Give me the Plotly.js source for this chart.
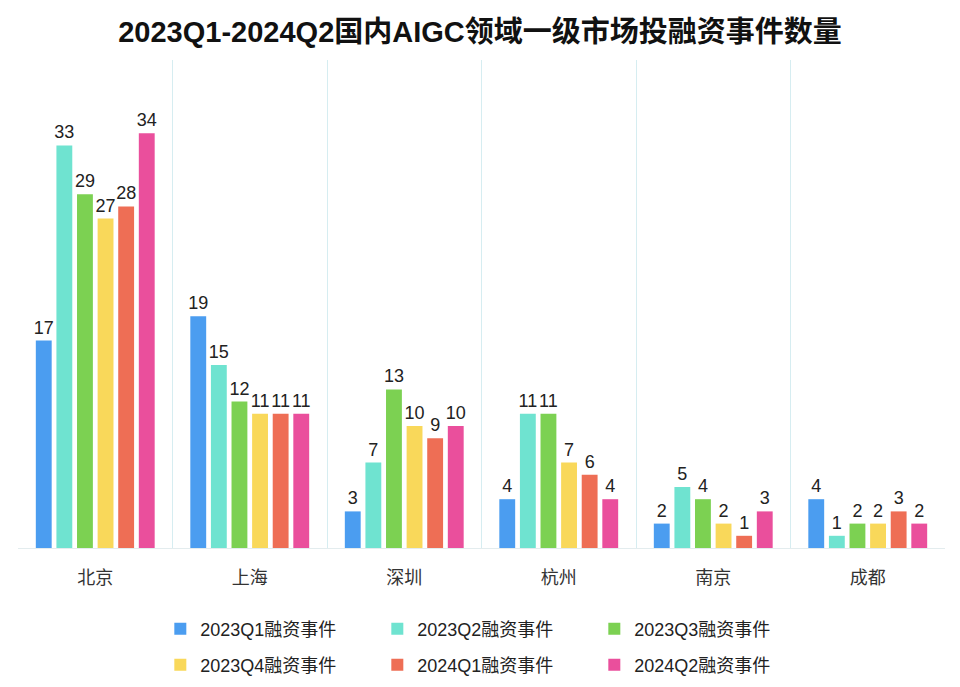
<!DOCTYPE html>
<html><head><meta charset="utf-8">
<script src="https://cdn.plot.ly/plotly-3.0.1.min.js"></script>
<style>html,body{margin:0;padding:0;background:#fff}#chart{width:960px;height:687px}</style>
</head><body><div id="chart"></div>
<script>
const cities = ['北京','上海','深圳','杭州','南京','成都'];
const seriesNames = ['2023Q1融资事件','2023Q2融资事件','2023Q3融资事件','2023Q4融资事件','2024Q1融资事件','2024Q2融资事件'];
const q1_2023 = [17,19,3,4,2,4];
const q2_2023 = [33,15,7,11,5,1];
const q3_2023 = [29,12,13,11,4,2];
const q4_2023 = [27,11,10,7,2,2];
const q1_2024 = [28,11,9,6,1,3];
const q2_2024 = [34,11,10,4,3,2];
const colors = ['#4B9DF0','#6FE3D0','#7CD152','#F9D85A','#EE6E55','#EA4F9C'];

const allValues = [q1_2023,q2_2023,q3_2023,q4_2023,q1_2024,q2_2024];
const font = '"Liberation Sans", Arial, "Noto Sans CJK SC", sans-serif';
const traces = allValues.map((vals,i)=>({
  type:'bar', name:seriesNames[i], x:cities, y:vals,
  text:vals.map(String), textposition:'outside', cliponaxis:false, constraintext:'none',
  textfont:{size:18,color:'#222',family:font},
  marker:{color:colors[i]},
  legend: i<3 ? 'legend' : 'legend2',
  hoverinfo:'x+y+name'
}));

const legendCommon = {orientation:'h', xref:'container', yref:'container', xanchor:'left', yanchor:'middle',
  entrywidth:172, itemwidth:30, font:{size:18,color:'#222',family:font}, tracegroupgap:0, bgcolor:'rgba(0,0,0,0)'};

const layout = {
  width:960, height:687,
  margin:{l:18,r:15,t:60,b:139, autoexpand:false},
  paper_bgcolor:'#fff', plot_bgcolor:'#fff',
  title:{text:'<b>2023Q1-2024Q2国内AIGC领域一级市场投融资事件数量</b>', x:0.5, xanchor:'center', y:0.953, yanchor:'middle',
         font:{size:29,color:'#111',family:font}},
  barmode:'group', bargap:0.2, bargroupgap:0.23,
  xaxis:{type:'category', tickson:'boundaries', showgrid:true, gridcolor:'#d6edf1', gridwidth:1,
         ticks:'', showline:true, linecolor:'#e3ecee', linewidth:1,
         tickfont:{size:18,color:'#333',family:font}, ticklabelstandoff:13},
  yaxis:{visible:false, range:[0,40], showgrid:false, zeroline:false},
  legend:Object.assign({}, legendCommon, {x:0.167, y:0.0844}),
  legend2:Object.assign({}, legendCommon, {x:0.167, y:0.032}),
  showlegend:true
};
Plotly.newPlot('chart', traces, layout, {displayModeBar:false, staticPlot:true});
</script></body></html>
